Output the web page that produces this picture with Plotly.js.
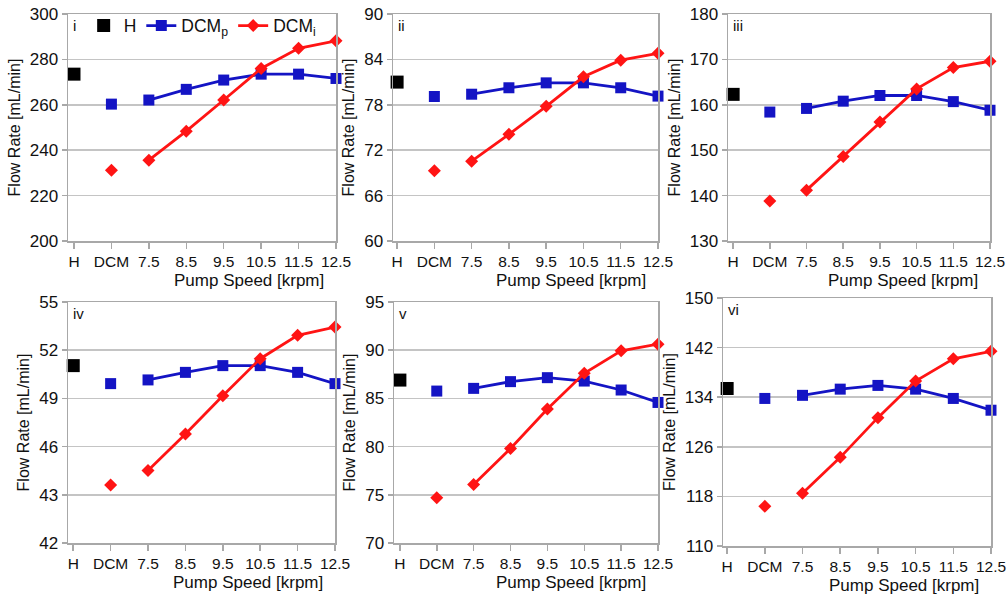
<!DOCTYPE html>
<html>
<head>
<meta charset="utf-8">
<script src="https://cdn.plot.ly/plotly-3.0.1.min.js"></script>
<style>html,body{margin:0;padding:0;background:#fff;}#chart{width:1008px;height:595px;}</style>
</head>
<body>
<div id="chart"></div>
<script>
// Categories on the x axis
const categories = ["H", "DCM", "7.5", "8.5", "9.5", "10.5", "11.5", "12.5"];

// Panel labels
const panelLabels = ["i", "ii", "iii", "iv", "v", "vi"];

// H values (one per panel)
const hValues = [273.5, 81.0, 162.3, 51.04, 86.9, 135.4];

// DCMp values: DCM, 7.5 ... 12.5
const dcmpI   = [260.3, 262.1, 266.8, 270.9, 273.5, 273.5, 271.6];
const dcmpII  = [79.1, 79.4, 80.25, 80.9, 80.9, 80.25, 79.15];
const dcmpIII = [158.4, 159.2, 160.8, 162.05, 162.05, 160.7, 158.8];
const dcmpIV  = [49.92, 50.15, 50.62, 51.04, 51.04, 50.62, 49.92];
const dcmpV   = [85.76, 86.04, 86.74, 87.15, 86.8, 85.87, 84.58];
const dcmpVI  = [133.8, 134.3, 135.3, 135.9, 135.3, 133.8, 131.9];

// DCMi values: DCM, 7.5 ... 12.5
const dcmiI   = [231.2, 235.6, 248.4, 262.1, 276.0, 284.9, 288.2];
const dcmiII  = [69.3, 70.55, 74.1, 77.8, 81.7, 83.9, 84.8];
const dcmiIII = [138.8, 141.2, 148.6, 156.2, 163.5, 168.2, 169.6];
const dcmiIV  = [43.61, 44.52, 46.78, 49.17, 51.47, 52.93, 53.44];
const dcmiV   = [74.7, 76.08, 79.8, 83.9, 87.6, 89.93, 90.63];
const dcmiVI  = [116.4, 118.5, 124.3, 130.7, 136.6, 140.2, 141.4];

// Y tick values and labels
const yTicksI   = [200, 220, 240, 260, 280, 300];
const yTicksII  = [60, 66, 72, 78, 84, 90];
const yTicksIII = [130, 140, 150, 160, 170, 180];
const yTicksIV  = [40, 43, 46, 49, 52, 55];
const yTickTextIV = ["42", "43", "46", "49", "52", "55"];
const yTicksV   = [70, 75, 80, 85, 90, 95];
const yTicksVI  = [110, 118, 126, 134, 142, 150];

const dcmpAll = [dcmpI, dcmpII, dcmpIII, dcmpIV, dcmpV, dcmpVI];
const dcmiAll = [dcmiI, dcmiII, dcmiIII, dcmiIV, dcmiV, dcmiVI];
const yTicksAll = [yTicksI, yTicksII, yTicksIII, yTicksIV, yTicksV, yTicksVI];
const yTickTextAll = [yTicksI.map(String), yTicksII.map(String), yTicksIII.map(String), yTickTextIV, yTicksV.map(String), yTicksVI.map(String)];

// Layout (pixel boxes of each panel: left, right, top, bottom)
const W = 1008, Hh = 595;
const boxes = [
  [68, 336, 14, 241],
  [393, 658, 14, 241],
  [728, 990, 14, 241],
  [68, 335, 302, 543],
  [394, 658, 302, 543],
  [723, 991, 298, 546]
];
const xLeftPad = [-0.16, -0.11, -0.14, -0.14, -0.16, -0.11];

const BLUE = "#1414c4";
const RED = "#ff1414";
const GRID = "#c4c4c4";
const AXIS = "#a8a8a8";
const FONT = "Liberation Sans, Arial, sans-serif";

const xIdx = categories.map((c, i) => i);
const traces = [];
const layout = {
  width: W, height: Hh,
  margin: {l: 0, r: 0, t: 0, b: 0},
  paper_bgcolor: "#fff", plot_bgcolor: "#fff",
  font: {family: FONT, color: "#111", size: 15},
  showlegend: true,
  legend: {
    orientation: "h", x: 0.083, xanchor: "left", y: 0.987, yanchor: "top",
    bgcolor: "rgba(0,0,0,0)", font: {size: 17.5, family: FONT, color: "#111"},
    traceorder: "normal", itemwidth: 30, tracegroupgap: 0
  },
  annotations: []
};

for (let k = 0; k < 6; k++) {
  const s = k === 0 ? "" : String(k + 1);
  const xa = "x" + s, ya = "y" + s;
  const p = dcmpAll[k], q = dcmiAll[k];
  const first = k === 0;
  traces.push({
    x: [xIdx[0]], y: [hValues[k]], xaxis: xa, yaxis: ya, type: "scatter", mode: "markers",
    name: "H", showlegend: first, legendrank: 1, cliponaxis: false,
    marker: {symbol: "square", size: 13, color: "#000"}, hoverinfo: "skip"
  });
  traces.push({
    x: [xIdx[1]], y: [p[0]], xaxis: xa, yaxis: ya, type: "scatter", mode: "markers",
    showlegend: false, cliponaxis: false,
    marker: {symbol: "square", size: 11, color: BLUE}, hoverinfo: "skip"
  });
  traces.push({
    x: xIdx.slice(2), y: p.slice(1), xaxis: xa, yaxis: ya, type: "scatter", mode: "lines+markers",
    name: "DCM<sub>p</sub>", showlegend: first, legendrank: 2, cliponaxis: false,
    line: {color: BLUE, width: 2.8}, marker: {symbol: "square", size: 11, color: BLUE}, hoverinfo: "skip"
  });
  traces.push({
    x: [xIdx[1]], y: [q[0]], xaxis: xa, yaxis: ya, type: "scatter", mode: "markers",
    showlegend: false, cliponaxis: false,
    marker: {symbol: "diamond", size: 10, color: RED}, hoverinfo: "skip"
  });
  traces.push({
    x: xIdx.slice(2), y: q.slice(1), xaxis: xa, yaxis: ya, type: "scatter", mode: "lines+markers",
    name: "DCM<sub>i</sub>", showlegend: first, legendrank: 3, cliponaxis: false,
    line: {color: RED, width: 2.8}, marker: {symbol: "diamond", size: 10, color: RED}, hoverinfo: "skip"
  });

  const b = boxes[k];
  const yt = yTicksAll[k];
  layout["xaxis" + s] = {
    domain: [b[0] / W, b[1] / W], anchor: ya,
    range: [xLeftPad[k], 7], tickmode: "array", tickvals: xIdx, ticktext: categories,
    ticks: "outside", ticklen: 6, tickwidth: 1.5, tickcolor: AXIS,
    showline: true, linecolor: AXIS, linewidth: 1.5, mirror: true,
    showgrid: false, zeroline: false, fixedrange: true,
    tickfont: {size: 15.5, family: FONT, color: "#111"}
  };
  layout["yaxis" + s] = {
    domain: [1 - b[3] / Hh, 1 - b[2] / Hh], anchor: xa,
    range: [yt[0], yt[yt.length - 1]], tickmode: "array", tickvals: yt, ticktext: yTickTextAll[k],
    ticks: "outside", ticklen: 5, tickwidth: 1.5, tickcolor: AXIS,
    showline: true, linecolor: AXIS, linewidth: 1.5, mirror: true,
    showgrid: true, gridcolor: GRID, gridwidth: 1.5, zeroline: false, fixedrange: true,
    tickfont: {size: 17, family: FONT, color: "#111"},
    title: {text: "Flow Rate [mL/min]", font: {size: 16, family: FONT, color: "#111"}, standoff: 5}
  };
  layout.annotations.push({
    text: panelLabels[k], xref: xa + " domain", yref: ya + " domain",
    x: 0, y: 1, xanchor: "left", yanchor: "top", xshift: 3, yshift: -1,
    showarrow: false, font: {size: 15, family: FONT, color: "#111"}
  });
  layout.annotations.push({
    text: "Pump Speed [krpm]", xref: xa + " domain", yref: ya + " domain",
    x: 1, y: 0, xanchor: "right", yanchor: "middle", xshift: -10, yshift: -39,
    showarrow: false, font: {size: 17, family: FONT, color: "#111"}
  });
}

Plotly.newPlot("chart", traces, layout, {staticPlot: true, displayModeBar: false});
</script>
</body>
</html>
